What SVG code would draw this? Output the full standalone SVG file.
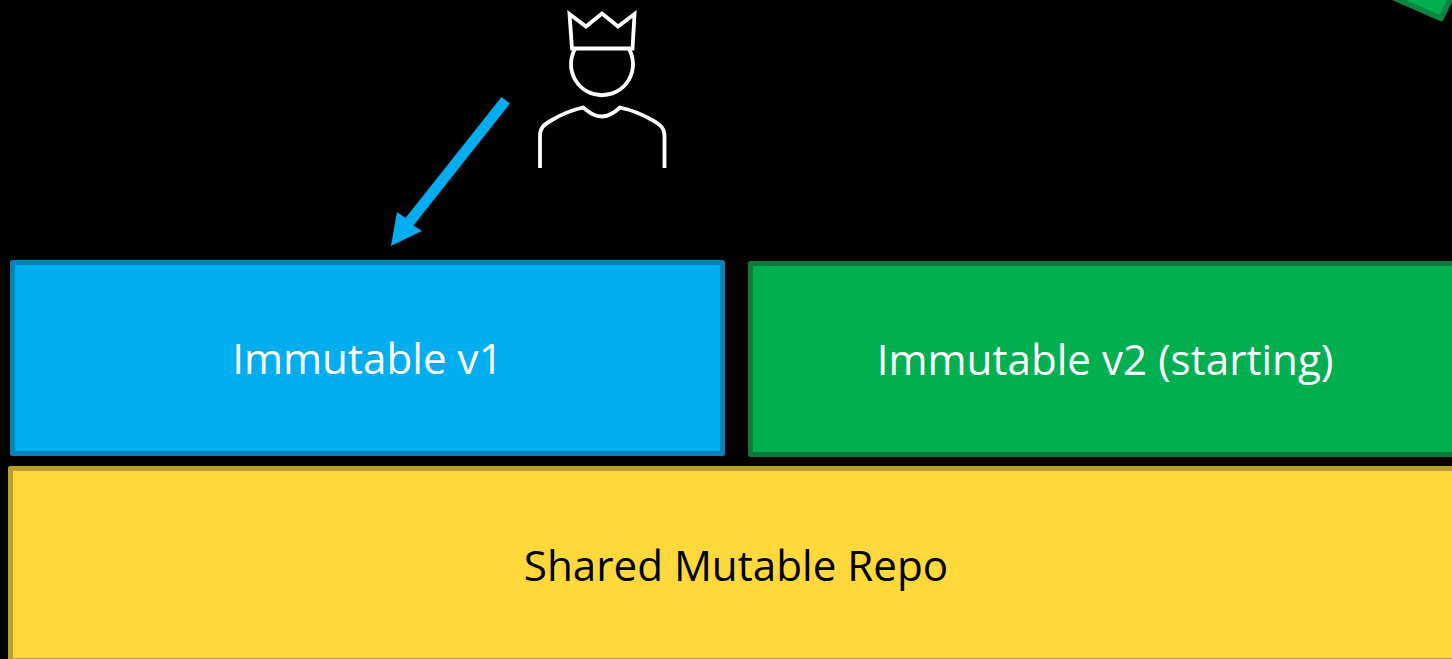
<svg xmlns="http://www.w3.org/2000/svg" width="1452" height="659" viewBox="0 0 1452 659">
<style>
.box{stroke-width:5;stroke-linejoin:round}
.label{font-family:"Open Sans","Noto Sans",sans-serif;font-size:42.200px;text-anchor:middle}
.icon{fill:none;stroke:#fff;stroke-width:3.8}
</style>
<rect width="1452" height="659" fill="#000"/>
<g id="corner-node"><path d="M1385 -6.100L1441 18.500L1452 -4" fill="#00b050" stroke="#0c8540" stroke-width="5.500" stroke-linejoin="round"/></g>
<g id="person">
<path class="icon" d="M569.500 14L586 26.500L602 13.500L618 26.500L634.500 14L632.500 48.500H572Z"/>
<path class="icon" d="M575 49A31 31 0 1 0 629 49"/>
<path class="icon" d="M540 168V136C540 127 545 124 552 120C562 114 572 110 583 107.500C590 113 595 116.500 602 116.500C609 116.500 614 113 620 107.500C631 110 642 114 652 120C659 124 664.500 127 664.500 136V168"/>
</g>
<g id="connectors"><path id="arrow" d="M501.500 97L510 103.500L413.500 225.500L422 231L391 246L397 212L405.500 218Z" fill="#00adef"/></g>
<g id="immutable-v1"><rect class="box" x="12.500" y="262.500" width="710" height="191" fill="#00adef" stroke="#0a81b8"/><text class="label" x="367.500" y="374" fill="#fff">Immutable v1</text></g>
<g id="immutable-v2"><rect class="box" x="750.500" y="263.500" width="710" height="191" fill="#00b050" stroke="#0c7a3c"/><text class="label" x="1105" y="375" fill="#fff">Immutable v2 (starting)</text></g>
<g id="shared-repo"><rect class="box" x="10.500" y="468.500" width="1450" height="192" fill="#ffd83b" stroke="#bb9f2d"/><text class="label" x="736" y="581" fill="#000">Shared Mutable Repo</text></g>
</svg>
